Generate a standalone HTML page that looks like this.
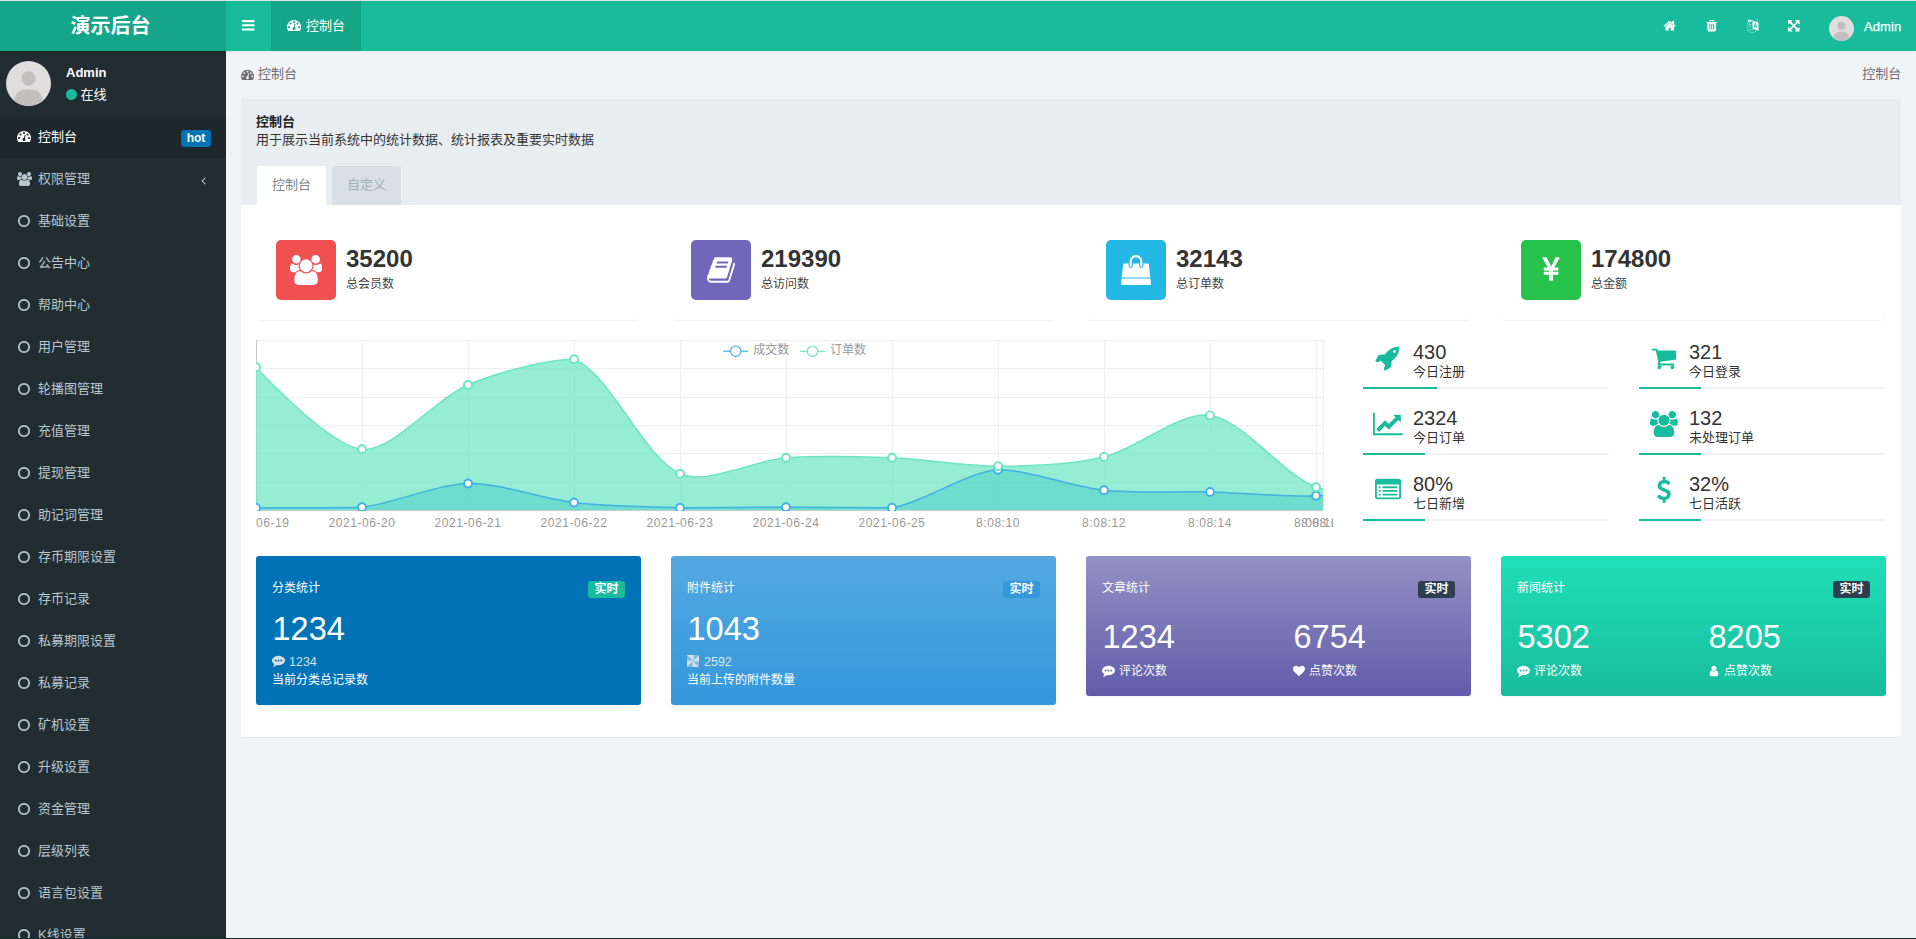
<!DOCTYPE html>
<html lang="zh-CN">
<head>
<meta charset="utf-8">
<title>演示后台</title>
<style>
*{box-sizing:border-box;}
html,body{margin:0;padding:0;}
body{width:1916px;height:939px;overflow:hidden;position:relative;background:#f1f4f6;color:#444;
 font-family:"Liberation Sans","Noto Sans CJK SC",sans-serif;font-size:13px;line-height:18px;}
svg{display:block;}
#topline{position:absolute;left:0;top:0;width:1916px;height:1px;background:#e6e1e6;z-index:50;}
/* header */
#header{position:absolute;left:0;top:1px;width:1916px;height:50px;background:#18bc9c;box-shadow:0 1px 2px rgba(0,0,0,.07);z-index:5;}
#logo{position:absolute;left:0;top:0;width:226px;height:50px;background:#15a589;color:#fff;font-weight:bold;font-size:20px;line-height:50px;}
#logo span{position:absolute;left:70.5px;top:0;}
#toggle{position:absolute;left:226px;top:0;width:45px;height:50px;}
#navtab{position:absolute;left:271px;top:0;width:90px;height:50px;background:#15a589;color:#fff;}
#navtab span{position:absolute;left:35px;top:15.5px;line-height:18px;}
#huser{position:absolute;left:1829px;top:15px;width:25px;height:25px;border-radius:50%;overflow:hidden;}
#hname{position:absolute;left:1864px;top:16.5px;color:#fff;font-size:13px;line-height:18px;letter-spacing:0.1px;-webkit-text-stroke:0.25px #fff;}
/* sidebar */
#sidebar{position:absolute;left:0;top:51px;width:226px;height:888px;background:#222d32;overflow:hidden;}
#avatar{position:absolute;left:6px;top:10px;width:45px;height:45px;border-radius:50%;overflow:hidden;}
#uname{position:absolute;left:66px;top:13px;color:#fff;font-weight:bold;font-size:13px;line-height:18px;}
#ustatus{position:absolute;left:66px;top:34.5px;color:#fff;font-size:13px;line-height:18px;}
#ustatus i{display:inline-block;width:11px;height:11px;border-radius:50%;background:#18bc9c;margin-right:3.5px;vertical-align:-1.5px;}
.mi{position:absolute;left:0;width:226px;height:42px;color:#b8c7ce;}
.mi.active{background:#1e282c;color:#fff;}
.mi .tx{position:absolute;left:38px;top:12px;line-height:18px;white-space:nowrap;}
#hot{position:absolute;left:181px;top:14px;width:30px;height:17px;background:#0073b7;border-radius:3px;color:#fff;font-weight:bold;font-size:12px;line-height:16px;text-align:center;}
/* content */
#bc{position:absolute;left:258px;top:65.4px;color:#746c73;line-height:18px;}
#bcr{position:absolute;right:14.8px;top:65.4px;color:#746c73;line-height:18px;}
#phead{position:absolute;left:241px;top:99px;width:1660px;height:106px;background:#e8edf0;border-radius:1px 0 0 0;}
#ptitle{position:absolute;left:15px;top:14px;font-weight:bold;color:#222;line-height:18px;}
#psub{position:absolute;left:15px;top:32px;color:#333;line-height:18px;}
.tab{position:absolute;top:67px;height:39px;width:69px;border-radius:3px 3px 0 0;text-align:center;line-height:38px;}
#tab1{left:16px;background:#fff;color:#7b8a8b;}
#tab2{left:91px;background:#d9e0e5;color:#a4afb4;}
#pbody{position:absolute;left:241px;top:205px;width:1660px;height:532px;background:#fff;border-radius:0 0 3px 3px;box-shadow:0 1px 1px rgba(0,0,0,.05);}
/* small stats */
.smst{position:absolute;top:15px;width:385px;height:100px;background:#fff;border-radius:5px;box-shadow:0 1px 0 rgba(0,0,0,.05);}
.smst .ico{position:absolute;left:20px;top:20px;width:60px;height:60px;border-radius:5px;}
.smst .num{position:absolute;left:90px;top:22px;font-size:24px;font-weight:bold;color:#333;line-height:34px;}
.smst .lab{position:absolute;left:90px;top:56px;font-size:12px;color:#444;line-height:17px;}
/* right stats */
.stat{position:absolute;width:246px;height:56px;}
.stat .val{position:absolute;left:50px;top:-2.4px;font-size:20px;line-height:24px;color:#333;}
.stat .nam{position:absolute;left:50px;top:21px;font-size:13px;line-height:18px;color:#333;}
.stat .bar{position:absolute;left:0;top:45px;width:246px;height:2px;background:#f2f2f2;}
.stat .bar i{display:block;height:2px;background:#18bc9c;}
/* cards */
.card{position:absolute;top:351px;width:385px;color:#fff;border-radius:3px;box-shadow:0 1px 1px rgba(0,0,0,.05);}
.card .ct{position:absolute;left:16px;top:24px;font-size:12px;line-height:17px;}
.card .lb{position:absolute;right:16px;top:25px;width:37px;height:17px;border-radius:3px;font-size:12px;font-weight:bold;line-height:16px;text-align:center;}
.card .big{position:absolute;font-size:32.5px;line-height:40px;}
.card .sm{position:absolute;font-size:12px;line-height:17px;white-space:nowrap;}
.card .sm b{font-weight:normal;font-size:12.5px;}
#botline{position:absolute;left:0;top:938px;width:1916px;height:1px;background:#17283a;z-index:50;}
</style>
</head>
<body>
<div id="topline"></div><div id="botline"></div>
<div id="header">
  <div id="logo"><span>演示后台</span></div>
  <div id="toggle"><svg style="position:absolute;left:14.6px;top:16.6px" width="14.60" height="14.6" viewBox="0 0 1792 1792"><path fill="#fff" d="M1664 1344v128q0 26-19 45t-45 19h-1408q-26 0-45-19t-19-45v-128q0-26 19-45t45-19h1408q26 0 45 19t19 45zm0-512v128q0 26-19 45t-45 19h-1408q-26 0-45-19t-19-45v-128q0-26 19-45t45-19h1408q26 0 45 19t19 45zm0-512v128q0 26-19 45t-45 19h-1408q-26 0-45-19t-19-45v-128q0-26 19-45t45-19h1408q26 0 45 19t19 45z"/></svg></div>
  <div id="navtab"><svg style="position:absolute;left:16.2px;top:17px" width="14.00" height="14" viewBox="0 0 1792 1792"><path fill="#fff" d="M384 1152q0-53-37.500-90.500t-90.500-37.500-90.500 37.500-37.500 90.500 37.500 90.500 90.500 37.500 90.500-37.500 37.500-90.500zm192-448q0-53-37.500-90.500t-90.500-37.500-90.500 37.500-37.500 90.500 37.500 90.500 90.500 37.500 90.500-37.500 37.500-90.500zm428 481l101-382q6-26-7.500-48.500t-38.500-29.500-48 6.500-30 39.500l-101 382q-60 5-107 43.500t-63 98.500q-20 77 20 146t117 89 146-20 89-117q16-60-6-117t-72-91zm660-33q0-53-37.500-90.500t-90.500-37.500-90.500 37.500-37.500 90.500 37.500 90.500 90.500 37.500 90.500-37.500 37.500-90.500zm-640-640q0-53-37.500-90.500t-90.500-37.500-90.500 37.500-37.500 90.500 37.500 90.500 90.500 37.500 90.500-37.500 37.500-90.500zm448 192q0-53-37.500-90.500t-90.500-37.500-90.500 37.500-37.500 90.500 37.500 90.500 90.500 37.500 90.500-37.500 37.500-90.500zm320 448q0 261-141 483-19 29-54 29h-1402q-35 0-54-29-141-221-141-483 0-182 71-348t191-286 286-191 348-71 348 71 286 191 191 286 71 348z"/></svg><span>控制台</span></div>
  <svg style="position:absolute;left:1663.0px;top:18.3px" width="13.50" height="13.5" viewBox="0 0 1792 1792"><path fill="#fff" d="M1472 992v480q0 26-19 45t-45 19h-384v-384h-256v384h-384q-26 0-45-19t-19-45v-480q0-1 .5-3t.5-3l575-474 575 474q1 2 1 6zm223-69l-62 74q-8 9-21 11h-3q-13 0-21-7l-692-577-692 577q-12 8-24 7-13-2-21-11l-62-74q-8-10-7-23.500t11-21.500l719-599q32-26 76-26t76 26l244 204v-195q0-14 9-23t23-9h192q14 0 23 9t9 23v408l219 182q10 8 11 21.500t-7 23.500z"/></svg>
  <svg style="position:absolute;left:1705.0px;top:18.3px" width="13.50" height="13.5" viewBox="0 0 1792 1792"><path fill="#fff" d="M704 1376v-704q0-14-9-23t-23-9h-64q-14 0-23 9t-9 23v704q0 14 9 23t23 9h64q14 0 23-9t9-23zm256 0v-704q0-14-9-23t-23-9h-64q-14 0-23 9t-9 23v704q0 14 9 23t23 9h64q14 0 23-9t9-23zm256 0v-704q0-14-9-23t-23-9h-64q-14 0-23 9t-9 23v704q0 14 9 23t23 9h64q14 0 23-9t9-23zm-544-992h448l-48-117q-7-9-17-11h-317q-10 2-17 11zm928 32v64q0 14-9 23t-23 9h-96v948q0 83-47 143.500t-113 60.500h-832q-66 0-113-58.500t-47-141.500v-952h-96q-14 0-23-9t-9-23v-64q0-14 9-23t23-9h309l70-167q15-37 54-63t79-26h320q40 0 79 26t54 63l70 167h309q14 0 23 9t9 23z"/></svg>
  <svg style="position:absolute;left:1745.7px;top:18.3px" width="13.50" height="13.5" viewBox="0 0 1792 1792"><path fill="#fff" d="M782 1078q-1 3-12.500 .5t-31.500-11.500l-20-9q-44-20-87-49-7-5-41-31.500t-38-28.500q-67 103-134 181-81 95-105 110-4 2-19.500 4t-18.500 0q6-4 82-92 21-24 85.500-115t78.500-118q17-30 51-98.500t36-77.500q-8-1-110 33-8 2-27.500 7.500t-34.500 9.500-17 5q-2 2-2 10.500t-1 9.500q-5 10-31 15-23 7-47 0-18-4-28-21-4-6-5-23 6-2 24.500-5t29.500-6q58-16 105-32 100-35 102-35 10-2 43-19.500t44-21.500q9-3 21.500-8t14.500-5.500 6 .5q2 12-1 33 0 2-12.500 27t-26.500 53.500-17 33.500q-25 50-77 131l64 28q12 6 74.500 32t67.500 28q4 1 10.500 25.500t4.500 30.500zm-205-486q3 15-4 28-12 23-50 38-30 12-60 12-26-3-49-26-14-15-18-41l1-3q3 3 19.500 5t26.500 0 58-16q36-12 55-14 17 0 21 17zm698 129l63 227-139-42zm-1108 800l694-232v-1032l-694 233v1031zm1241-317l102 31-181-657-100-31-216 536 102 31 45-110 211 65zm-503-962l573 184v-380zm311 1323l158 13-54 160-40-66q-130 83-276 108-58 12-91 12h-84q-79 0-199.500-39t-183.500-85q-8-7-8-16 0-8 5-13.500t13-5.500q4 0 18 7.500t30.500 16.500 20.500 11q73 37 159.500 61.500t157.500 24.500q95 0 167-14.500t157-50.500q15-7 30.500-15.500t34-19 28.500-16.500zm448-1079v1079l-774-246q-14 6-375 127.500t-368 121.500q-13 0-18-13 0-1-1-3v-1078q3-9 4-10 5-6 20-11 106-35 149-50v-384l558 198q2 0 160.500-55t316-108.500 161.500-53.500q20 0 20 21v418z"/></svg>
  <svg style="position:absolute;left:1786.8px;top:18.3px" width="13.50" height="13.5" viewBox="0 0 1792 1792"><path fill="#fff" d="M1411 541l-355 355 355 355 144-144q29-31 70-14 39 17 39 59v448q0 26-19 45t-45 19h-448q-42 0-59-40-17-39 14-69l144-144-355-355-355 355 144 144q31 30 14 69-17 40-59 40h-448q-26 0-45-19t-19-45v-448q0-42 40-59 39-17 69 14l144 144 355-355-355-355-144 144q-19 19-45 19-12 0-24-5-40-17-40-59v-448q0-26 19-45t45-19h448q42 0 59 40 17 39-14 69l-144 144 355 355 355-355-144-144q-31-30-14-69 17-40 59-40h448q26 0 45 19t19 45v448q0 42-39 59-13 5-25 5-26 0-45-19z"/></svg>
  <div id="huser"><svg width="25" height="25" viewBox="0 0 45 45"><rect width="45" height="45" fill="#dfdddd"/><circle cx="22.5" cy="17.5" r="7.2" fill="#c2bfbf"/><path d="M7.5 45 C7.5 31 14 28.5 22.5 28.5 S37.5 31 37.5 45Z" fill="#c2bfbf"/></svg></div>
  <div id="hname">Admin</div>
</div>
<div id="sidebar">
  <div id="avatar"><svg width="45" height="45" viewBox="0 0 45 45"><rect width="45" height="45" fill="#dfdddd"/><circle cx="22.5" cy="17.5" r="7.2" fill="#c2bfbf"/><path d="M7.5 45 C7.5 31 14 28.5 22.5 28.5 S37.5 31 37.5 45Z" fill="#c2bfbf"/></svg></div>
  <div id="uname">Admin</div>
  <div id="ustatus"><i></i>在线</div>
  <div class="mi active" style="top:65px"><svg style="position:absolute;left:17px;top:13.4px" width="14.00" height="14" viewBox="0 0 1792 1792"><path fill="#fff" d="M384 1152q0-53-37.500-90.500t-90.500-37.500-90.500 37.500-37.500 90.500 37.500 90.500 90.500 37.500 90.500-37.500 37.500-90.500zm192-448q0-53-37.500-90.500t-90.500-37.500-90.500 37.500-37.500 90.500 37.500 90.500 90.500 37.500 90.500-37.500 37.500-90.500zm428 481l101-382q6-26-7.500-48.500t-38.500-29.500-48 6.500-30 39.500l-101 382q-60 5-107 43.500t-63 98.500q-20 77 20 146t117 89 146-20 89-117q16-60-6-117t-72-91zm660-33q0-53-37.500-90.500t-90.500-37.500-90.500 37.500-37.500 90.500 37.500 90.500 90.500 37.500 90.500-37.500 37.500-90.500zm-640-640q0-53-37.500-90.500t-90.500-37.500-90.500 37.500-37.500 90.500 37.500 90.500 90.500 37.500 90.500-37.500 37.500-90.500zm448 192q0-53-37.500-90.500t-90.500-37.500-90.500 37.500-37.500 90.500 37.500 90.500 90.500 37.500 90.500-37.500 37.500-90.500zm320 448q0 261-141 483-19 29-54 29h-1402q-35 0-54-29-141-221-141-483 0-182 71-348t191-286 286-191 348-71 348 71 286 191 191 286 71 348z"/></svg><span class="tx">控制台</span><span id="hot">hot</span></div>
<div class="mi" style="top:107px"><svg style="position:absolute;left:17px;top:13.5px" width="15.00" height="14" viewBox="0 0 1920 1792"><path fill="#b8c7ce" d="M593 896q-162 5-265 128h-134q-82 0-138-40.500t-56-118.500q0-353 124-353 6 0 43.500 21t97.500 42.500 119 21.500q67 0 133-23-5 37-5 66 0 139 81 256zm1071 637q0 120-73 189.500t-194 69.500h-874q-121 0-194-69.500t-73-189.500q0-53 3.500-103.500t14-109 26.500-108.500 43-97.500 62-81 85.500-53.500 111.500-20q10 0 43 21.500t73 48 107 48 135 21.500 135-21.500 107-48 73-48 43-21.500q61 0 111.500 20t85.500 53.500 62 81 43 97.500 26.500 108.500 14 109 3.500 103.500zm-1024-1277q0 106-75 181t-181 75-181-75-75-181 75-181 181-75 181 75 75 181zm704 384q0 159-112.500 271.500t-271.500 112.500-271.500-112.500-112.500-271.500 112.500-271.500 271.500-112.500 271.500 112.500 112.500 271.500zm576 225q0 78-56 118.500t-138 40.500h-134q-103-123-265-128 81-117 81-256 0-29-5-66 66 23 133 23 59 0 119-21.500t97.500-42.500 43.500-21q124 0 124 353zm-128-609q0 106-75 181t-181 75-181-75-75-181 75-181 181-75 181 75 75 181z"/></svg><span class="tx">权限管理</span><svg style="position:absolute;left:196.5px;top:15.8px" width="13.00" height="13" viewBox="0 0 1792 1792"><path fill="#b8c7ce" d="M1203 544q0 13-10 23l-393 393 393 393q10 10 10 23t-10 23l-50 50q-10 10-23 10t-23-10l-466-466q-10-10-10-23t10-23l466-466q10-10 23-10t23 10l50 50q10 10 10 23z"/></svg></div>
<div class="mi" style="top:149px"><svg style="position:absolute;left:17px;top:13.6px" width="14" height="14" viewBox="0 0 1792 1792"><path fill="#b8c7ce" d="M896 352q-148 0-273 73t-198 198-73 273 73 273 198 198 273 73 273-73 198-198 73-273-73-273-198-198-273-73zm768 544q0 209-103 385.500t-279.500 279.500-385.500 103-385.500-103-279.500-279.500-103-385.500 103-385.500 279.500-279.500 385.500-103 385.500 103 279.500 279.500 103 385.500z"/></svg><span class="tx">基础设置</span></div>
<div class="mi" style="top:191px"><svg style="position:absolute;left:17px;top:13.6px" width="14" height="14" viewBox="0 0 1792 1792"><path fill="#b8c7ce" d="M896 352q-148 0-273 73t-198 198-73 273 73 273 198 198 273 73 273-73 198-198 73-273-73-273-198-198-273-73zm768 544q0 209-103 385.500t-279.500 279.500-385.500 103-385.500-103-279.500-279.500-103-385.500 103-385.500 279.500-279.500 385.500-103 385.500 103 279.500 279.500 103 385.500z"/></svg><span class="tx">公告中心</span></div>
<div class="mi" style="top:233px"><svg style="position:absolute;left:17px;top:13.6px" width="14" height="14" viewBox="0 0 1792 1792"><path fill="#b8c7ce" d="M896 352q-148 0-273 73t-198 198-73 273 73 273 198 198 273 73 273-73 198-198 73-273-73-273-198-198-273-73zm768 544q0 209-103 385.500t-279.500 279.500-385.500 103-385.500-103-279.500-279.500-103-385.500 103-385.500 279.500-279.500 385.500-103 385.500 103 279.500 279.500 103 385.500z"/></svg><span class="tx">帮助中心</span></div>
<div class="mi" style="top:275px"><svg style="position:absolute;left:17px;top:13.6px" width="14" height="14" viewBox="0 0 1792 1792"><path fill="#b8c7ce" d="M896 352q-148 0-273 73t-198 198-73 273 73 273 198 198 273 73 273-73 198-198 73-273-73-273-198-198-273-73zm768 544q0 209-103 385.500t-279.500 279.500-385.500 103-385.500-103-279.500-279.500-103-385.500 103-385.500 279.500-279.500 385.500-103 385.500 103 279.500 279.500 103 385.500z"/></svg><span class="tx">用户管理</span></div>
<div class="mi" style="top:317px"><svg style="position:absolute;left:17px;top:13.6px" width="14" height="14" viewBox="0 0 1792 1792"><path fill="#b8c7ce" d="M896 352q-148 0-273 73t-198 198-73 273 73 273 198 198 273 73 273-73 198-198 73-273-73-273-198-198-273-73zm768 544q0 209-103 385.500t-279.500 279.500-385.500 103-385.500-103-279.500-279.500-103-385.500 103-385.500 279.500-279.500 385.500-103 385.500 103 279.500 279.500 103 385.500z"/></svg><span class="tx">轮播图管理</span></div>
<div class="mi" style="top:359px"><svg style="position:absolute;left:17px;top:13.6px" width="14" height="14" viewBox="0 0 1792 1792"><path fill="#b8c7ce" d="M896 352q-148 0-273 73t-198 198-73 273 73 273 198 198 273 73 273-73 198-198 73-273-73-273-198-198-273-73zm768 544q0 209-103 385.500t-279.500 279.500-385.500 103-385.500-103-279.500-279.500-103-385.500 103-385.500 279.500-279.500 385.500-103 385.500 103 279.500 279.500 103 385.500z"/></svg><span class="tx">充值管理</span></div>
<div class="mi" style="top:401px"><svg style="position:absolute;left:17px;top:13.6px" width="14" height="14" viewBox="0 0 1792 1792"><path fill="#b8c7ce" d="M896 352q-148 0-273 73t-198 198-73 273 73 273 198 198 273 73 273-73 198-198 73-273-73-273-198-198-273-73zm768 544q0 209-103 385.500t-279.500 279.500-385.500 103-385.500-103-279.500-279.500-103-385.500 103-385.500 279.500-279.500 385.500-103 385.500 103 279.500 279.500 103 385.500z"/></svg><span class="tx">提现管理</span></div>
<div class="mi" style="top:443px"><svg style="position:absolute;left:17px;top:13.6px" width="14" height="14" viewBox="0 0 1792 1792"><path fill="#b8c7ce" d="M896 352q-148 0-273 73t-198 198-73 273 73 273 198 198 273 73 273-73 198-198 73-273-73-273-198-198-273-73zm768 544q0 209-103 385.500t-279.500 279.500-385.500 103-385.500-103-279.500-279.500-103-385.500 103-385.500 279.500-279.500 385.500-103 385.500 103 279.500 279.500 103 385.500z"/></svg><span class="tx">助记词管理</span></div>
<div class="mi" style="top:485px"><svg style="position:absolute;left:17px;top:13.6px" width="14" height="14" viewBox="0 0 1792 1792"><path fill="#b8c7ce" d="M896 352q-148 0-273 73t-198 198-73 273 73 273 198 198 273 73 273-73 198-198 73-273-73-273-198-198-273-73zm768 544q0 209-103 385.500t-279.500 279.500-385.500 103-385.500-103-279.500-279.500-103-385.500 103-385.500 279.500-279.500 385.500-103 385.500 103 279.500 279.500 103 385.500z"/></svg><span class="tx">存币期限设置</span></div>
<div class="mi" style="top:527px"><svg style="position:absolute;left:17px;top:13.6px" width="14" height="14" viewBox="0 0 1792 1792"><path fill="#b8c7ce" d="M896 352q-148 0-273 73t-198 198-73 273 73 273 198 198 273 73 273-73 198-198 73-273-73-273-198-198-273-73zm768 544q0 209-103 385.500t-279.500 279.500-385.500 103-385.500-103-279.500-279.500-103-385.500 103-385.500 279.500-279.500 385.500-103 385.500 103 279.500 279.500 103 385.500z"/></svg><span class="tx">存币记录</span></div>
<div class="mi" style="top:569px"><svg style="position:absolute;left:17px;top:13.6px" width="14" height="14" viewBox="0 0 1792 1792"><path fill="#b8c7ce" d="M896 352q-148 0-273 73t-198 198-73 273 73 273 198 198 273 73 273-73 198-198 73-273-73-273-198-198-273-73zm768 544q0 209-103 385.500t-279.500 279.500-385.500 103-385.500-103-279.500-279.500-103-385.500 103-385.500 279.500-279.500 385.500-103 385.500 103 279.500 279.500 103 385.500z"/></svg><span class="tx">私募期限设置</span></div>
<div class="mi" style="top:611px"><svg style="position:absolute;left:17px;top:13.6px" width="14" height="14" viewBox="0 0 1792 1792"><path fill="#b8c7ce" d="M896 352q-148 0-273 73t-198 198-73 273 73 273 198 198 273 73 273-73 198-198 73-273-73-273-198-198-273-73zm768 544q0 209-103 385.500t-279.500 279.500-385.500 103-385.500-103-279.500-279.500-103-385.500 103-385.500 279.500-279.500 385.500-103 385.500 103 279.500 279.500 103 385.500z"/></svg><span class="tx">私募记录</span></div>
<div class="mi" style="top:653px"><svg style="position:absolute;left:17px;top:13.6px" width="14" height="14" viewBox="0 0 1792 1792"><path fill="#b8c7ce" d="M896 352q-148 0-273 73t-198 198-73 273 73 273 198 198 273 73 273-73 198-198 73-273-73-273-198-198-273-73zm768 544q0 209-103 385.500t-279.500 279.500-385.500 103-385.500-103-279.500-279.500-103-385.500 103-385.500 279.500-279.500 385.500-103 385.500 103 279.500 279.500 103 385.500z"/></svg><span class="tx">矿机设置</span></div>
<div class="mi" style="top:695px"><svg style="position:absolute;left:17px;top:13.6px" width="14" height="14" viewBox="0 0 1792 1792"><path fill="#b8c7ce" d="M896 352q-148 0-273 73t-198 198-73 273 73 273 198 198 273 73 273-73 198-198 73-273-73-273-198-198-273-73zm768 544q0 209-103 385.500t-279.500 279.500-385.500 103-385.500-103-279.500-279.500-103-385.500 103-385.500 279.500-279.500 385.500-103 385.500 103 279.500 279.500 103 385.500z"/></svg><span class="tx">升级设置</span></div>
<div class="mi" style="top:737px"><svg style="position:absolute;left:17px;top:13.6px" width="14" height="14" viewBox="0 0 1792 1792"><path fill="#b8c7ce" d="M896 352q-148 0-273 73t-198 198-73 273 73 273 198 198 273 73 273-73 198-198 73-273-73-273-198-198-273-73zm768 544q0 209-103 385.500t-279.500 279.500-385.500 103-385.500-103-279.500-279.500-103-385.500 103-385.500 279.500-279.500 385.500-103 385.500 103 279.500 279.500 103 385.500z"/></svg><span class="tx">资金管理</span></div>
<div class="mi" style="top:779px"><svg style="position:absolute;left:17px;top:13.6px" width="14" height="14" viewBox="0 0 1792 1792"><path fill="#b8c7ce" d="M896 352q-148 0-273 73t-198 198-73 273 73 273 198 198 273 73 273-73 198-198 73-273-73-273-198-198-273-73zm768 544q0 209-103 385.500t-279.500 279.500-385.500 103-385.500-103-279.500-279.500-103-385.500 103-385.500 279.500-279.500 385.500-103 385.500 103 279.500 279.500 103 385.500z"/></svg><span class="tx">层级列表</span></div>
<div class="mi" style="top:821px"><svg style="position:absolute;left:17px;top:13.6px" width="14" height="14" viewBox="0 0 1792 1792"><path fill="#b8c7ce" d="M896 352q-148 0-273 73t-198 198-73 273 73 273 198 198 273 73 273-73 198-198 73-273-73-273-198-198-273-73zm768 544q0 209-103 385.500t-279.500 279.500-385.500 103-385.500-103-279.500-279.500-103-385.500 103-385.500 279.500-279.500 385.500-103 385.500 103 279.500 279.500 103 385.500z"/></svg><span class="tx">语言包设置</span></div>
<div class="mi" style="top:863px"><svg style="position:absolute;left:17px;top:13.6px" width="14" height="14" viewBox="0 0 1792 1792"><path fill="#b8c7ce" d="M896 352q-148 0-273 73t-198 198-73 273 73 273 198 198 273 73 273-73 198-198 73-273-73-273-198-198-273-73zm768 544q0 209-103 385.500t-279.500 279.500-385.500 103-385.500-103-279.500-279.500-103-385.500 103-385.500 279.500-279.500 385.500-103 385.500 103 279.500 279.500 103 385.500z"/></svg><span class="tx">K线设置</span></div>

</div>
<div id="bc"><svg style="position:absolute;left:-17px;top:3px" width="13.00" height="13" viewBox="0 0 1792 1792"><path fill="#746c73" d="M384 1152q0-53-37.500-90.500t-90.500-37.500-90.500 37.500-37.500 90.500 37.500 90.500 90.500 37.500 90.500-37.500 37.500-90.500zm192-448q0-53-37.500-90.500t-90.500-37.500-90.500 37.500-37.500 90.500 37.500 90.500 90.500 37.500 90.500-37.500 37.500-90.500zm428 481l101-382q6-26-7.500-48.500t-38.500-29.500-48 6.500-30 39.500l-101 382q-60 5-107 43.500t-63 98.500q-20 77 20 146t117 89 146-20 89-117q16-60-6-117t-72-91zm660-33q0-53-37.500-90.500t-90.500-37.500-90.500 37.500-37.500 90.500 37.500 90.500 90.500 37.500 90.500-37.500 37.500-90.500zm-640-640q0-53-37.500-90.500t-90.500-37.500-90.500 37.500-37.500 90.500 37.500 90.500 90.500 37.500 90.500-37.500 37.500-90.500zm448 192q0-53-37.500-90.500t-90.500-37.500-90.500 37.500-37.500 90.500 37.500 90.500 90.500 37.500 90.500-37.500 37.500-90.500zm320 448q0 261-141 483-19 29-54 29h-1402q-35 0-54-29-141-221-141-483 0-182 71-348t191-286 286-191 348-71 348 71 286 191 191 286 71 348z"/></svg>控制台</div>
<div id="bcr">控制台</div>
<div id="phead">
  <div id="ptitle">控制台</div>
  <div id="psub">用于展示当前系统中的统计数据、统计报表及重要实时数据</div>
  <div class="tab" id="tab1">控制台</div>
  <div class="tab" id="tab2">自定义</div>
</div>
<div id="pbody"><div class="smst" style="left:15px"><div class="ico" style="background:#f05050"><svg style="position:absolute;left:13.928571428571427px;top:15.0px" width="32.14" height="30" viewBox="0 0 1920 1792"><path fill="#fff" d="M593 896q-162 5-265 128h-134q-82 0-138-40.500t-56-118.500q0-353 124-353 6 0 43.500 21t97.500 42.500 119 21.500q67 0 133-23-5 37-5 66 0 139 81 256zm1071 637q0 120-73 189.500t-194 69.500h-874q-121 0-194-69.500t-73-189.500q0-53 3.500-103.500t14-109 26.500-108.500 43-97.500 62-81 85.500-53.500 111.500-20q10 0 43 21.500t73 48 107 48 135 21.500 135-21.500 107-48 73-48 43-21.500q61 0 111.500 20t85.500 53.500 62 81 43 97.500 26.500 108.500 14 109 3.500 103.500zm-1024-1277q0 106-75 181t-181 75-181-75-75-181 75-181 181-75 181 75 75 181zm704 384q0 159-112.500 271.500t-271.500 112.500-271.500-112.500-112.500-271.500 112.500-271.500 271.500-112.500 271.500 112.500 112.500 271.500zm576 225q0 78-56 118.500t-138 40.500h-134q-103-123-265-128 81-117 81-256 0-29-5-66 66 23 133 23 59 0 119-21.500t97.500-42.500 43.500-21q124 0 124 353zm-128-609q0 106-75 181t-181 75-181-75-75-181 75-181 181-75 181 75 75 181z"/></svg></div><div class="num">35200</div><div class="lab">总会员数</div></div><div class="smst" style="left:430px"><div class="ico" style="background:#7266ba"><svg style="position:absolute;left:15.0px;top:15.0px" width="30.00" height="30" viewBox="0 0 1792 1792"><path fill="#fff" d="M1703 478q40 57 18 129l-275 906q-19 64-76.500 107.500t-122.500 43.500h-923q-77 0-148.500-53.500t-99.500-131.500q-24-67-2-127 0-4 3-27t4-37q1-8-3-21.500t-3-19.500q2-11 8-21t16.500-23.500 16.500-23.500q23-38 45-91.500t30-91.500q3-10 .5-30t-.5-28q3-11 17-28t17-23q21-36 42-92t25-90q1-9-2.500-32t.5-28q4-13 22-30.500t22-22.500q19-26 42.500-84.500t27.500-96.500q1-8-3-25.500t-2-26.500q2-8 9-18t18-23 17-21q8-12 16.500-30.500t15-35 16-36 19.500-32 26.500-23.500 36-11.500 47.500 5.500l-1 3q38-9 51-9h761q74 0 114 56t18 130l-274 906q-36 119-71.500 153.500t-128.500 34.500h-869q-27 0-38 15-11 16-1 43 24 70 144 70h923q29 0 56-15.500t35-41.500l300-987q7-22 5-57 38 15 59 43zm-1064 2q-4 13 2 22.500t20 9.500h608q13 0 25.500-9.500t16.500-22.500l21-64q4-13-2-22.500t-20-9.500h-608q-13 0-25.500 9.500t-16.500 22.500zm-83 256q-4 13 2 22.500t20 9.500h608q13 0 25.500-9.500t16.500-22.500l21-64q4-13-2-22.500t-20-9.500h-608q-13 0-25.500 9.500t-16.500 22.500z"/></svg></div><div class="num">219390</div><div class="lab">总访问数</div></div><div class="smst" style="left:845px"><div class="ico" style="background:#23b7e5"><svg style="position:absolute;left:15.0px;top:15.0px" width="30.00" height="30" viewBox="0 0 1792 1792"><path fill="#fff" d="M1757 1408l35 313q3 28-16 50-19 21-48 21h-1664q-29 0-48-21-19-22-16-50l35-313h1722zm-93-839l86 775h-1708l86-775q3-24 21-40.500t43-16.500h256v128q0 53 37.500 90.500t90.500 37.500 90.500-37.500 37.500-90.500v-128h384v128q0 53 37.500 90.500t90.500 37.500 90.500-37.500 37.500-90.500v-128h256q25 0 43 16.500t21 40.500zm-384-185v256q0 26-19 45t-45 19-45-19-19-45v-256q0-106-75-181t-181-75-181 75-75 181v256q0 26-19 45t-45 19-45-19-19-45v-256q0-159 112.500-271.500t271.500-112.500 271.500 112.500 112.500 271.500z"/></svg></div><div class="num">32143</div><div class="lab">总订单数</div></div><div class="smst" style="left:1260px"><div class="ico" style="background:#27c24c"><svg style="position:absolute;left:15.0px;top:15.0px" width="30.00" height="30" viewBox="0 0 1792 1792"><path fill="#fff" d="M985.500 1536h-172q-13 0-22.500-9t-9.500-23v-330h-288q-13 0-22.500-9t-9.500-23v-103q0-13 9.500-22.500t22.500-9.500h288v-85h-288q-13 0-22.500-9t-9.500-23v-104q0-13 9.500-22.500t22.500-9.500h214l-321-578q-8-16 0-32 10-16 28-16h194q19 0 29 18l215 425q19 38 56 125 10-24 30.500-68t27.500-61l191-420q8-19 29-19h191q17 0 27 16 9 14 1 31l-313 579h215q13 0 22.500 9.500t9.500 22.500v104q0 14-9.500 23t-22.500 9h-290v85h290q13 0 22.500 9.500t9.500 22.500v103q0 14-9.500 23t-22.500 9h-290v330q0 13-9.500 22.500t-22.500 9.500z"/></svg></div><div class="num">174800</div><div class="lab">总金额</div></div><svg id="chart" style="position:absolute;left:15px;top:135px;overflow:hidden" width="1077" height="200" viewBox="0 0 1077 200">
<defs><clipPath id="pc"><rect x="0" y="0" width="1067" height="171"/></clipPath></defs>
<line x1="0" y1="0.5" x2="1067" y2="0.5" stroke="#eee" stroke-width="1"/>
<line x1="0" y1="28.5" x2="1067" y2="28.5" stroke="#eee" stroke-width="1"/>
<line x1="0" y1="57.5" x2="1067" y2="57.5" stroke="#eee" stroke-width="1"/>
<line x1="0" y1="85.5" x2="1067" y2="85.5" stroke="#eee" stroke-width="1"/>
<line x1="0" y1="113.5" x2="1067" y2="113.5" stroke="#eee" stroke-width="1"/>
<line x1="0" y1="142.5" x2="1067" y2="142.5" stroke="#eee" stroke-width="1"/>
<line x1="106.5" y1="0" x2="106.5" y2="170" stroke="#eee" stroke-width="1"/>
<line x1="212.5" y1="0" x2="212.5" y2="170" stroke="#eee" stroke-width="1"/>
<line x1="318.5" y1="0" x2="318.5" y2="170" stroke="#eee" stroke-width="1"/>
<line x1="424.5" y1="0" x2="424.5" y2="170" stroke="#eee" stroke-width="1"/>
<line x1="530.5" y1="0" x2="530.5" y2="170" stroke="#eee" stroke-width="1"/>
<line x1="636.5" y1="0" x2="636.5" y2="170" stroke="#eee" stroke-width="1"/>
<line x1="742.5" y1="0" x2="742.5" y2="170" stroke="#eee" stroke-width="1"/>
<line x1="848.5" y1="0" x2="848.5" y2="170" stroke="#eee" stroke-width="1"/>
<line x1="954.5" y1="0" x2="954.5" y2="170" stroke="#eee" stroke-width="1"/>
<line x1="1060.5" y1="0" x2="1060.5" y2="170" stroke="#eee" stroke-width="1"/>
<line x1="1067.5" y1="0" x2="1067.5" y2="170" stroke="#eee" stroke-width="1"/>
<line x1="0.5" y1="0" x2="0.5" y2="170" stroke="#ccc" stroke-width="1"/>
<line x1="0" y1="170.5" x2="1067" y2="170.5" stroke="#ccc" stroke-width="1"/>
<g clip-path="url(#pc)">
<path d="M0.00 167.80C0.00 167.80 74.59 167.80 106.00 167.20C138.19 163.51 180.06 144.21 212.00 143.50C243.66 142.80 285.97 158.83 318.00 162.50C349.57 166.12 392.18 167.09 424.00 167.80C455.78 167.80 498.20 167.20 530.00 167.20C561.80 167.20 605.16 167.80 636.00 167.80C668.76 162.02 709.53 132.50 742.00 129.80C773.13 129.80 815.91 146.84 848.00 150.20C879.51 153.50 922.21 151.16 954.00 152.00C985.81 152.84 1028.29 157.00 1060.00 155.80C1091.89 154.60 1166.00 144.00 1166.00 144.00L1166.00 170 L0.00 170Z" fill="#3fb1e3" fill-opacity="0.7"/>
<path d="M0.00 27.20C0.00 27.20 72.96 106.53 106.00 109.30C136.56 111.87 178.17 59.38 212.00 45.00C241.77 32.35 291.84 19.20 318.00 19.20C355.44 34.88 386.29 116.26 424.00 133.80C449.89 145.84 498.02 120.21 530.00 117.80C561.62 115.41 604.25 116.54 636.00 117.80C667.85 119.06 710.21 126.33 742.00 126.20C773.81 126.06 817.27 124.26 848.00 116.90C880.87 109.02 924.07 71.12 954.00 75.40C987.67 80.21 1025.27 133.83 1060.00 147.20C1088.87 157.00 1166.00 157.00 1166.00 157.00L1166.00 170 L0.00 170Z" fill="#6be6c1" fill-opacity="0.7"/>
<path d="M0.00 167.80C0.00 167.80 74.59 167.80 106.00 167.20C138.19 163.51 180.06 144.21 212.00 143.50C243.66 142.80 285.97 158.83 318.00 162.50C349.57 166.12 392.18 167.09 424.00 167.80C455.78 167.80 498.20 167.20 530.00 167.20C561.80 167.20 605.16 167.80 636.00 167.80C668.76 162.02 709.53 132.50 742.00 129.80C773.13 129.80 815.91 146.84 848.00 150.20C879.51 153.50 922.21 151.16 954.00 152.00C985.81 152.84 1028.29 157.00 1060.00 155.80C1091.89 154.60 1166.00 144.00 1166.00 144.00" fill="none" stroke="#3fb1e3" stroke-width="1.5"/>
<path d="M0.00 27.20C0.00 27.20 72.96 106.53 106.00 109.30C136.56 111.87 178.17 59.38 212.00 45.00C241.77 32.35 291.84 19.20 318.00 19.20C355.44 34.88 386.29 116.26 424.00 133.80C449.89 145.84 498.02 120.21 530.00 117.80C561.62 115.41 604.25 116.54 636.00 117.80C667.85 119.06 710.21 126.33 742.00 126.20C773.81 126.06 817.27 124.26 848.00 116.90C880.87 109.02 924.07 71.12 954.00 75.40C987.67 80.21 1025.27 133.83 1060.00 147.20C1088.87 157.00 1166.00 157.00 1166.00 157.00" fill="none" stroke="#6be6c1" stroke-width="1.5"/>
<circle cx="0.0" cy="167.8" r="4" fill="#fff" stroke="#3fb1e3" stroke-width="1.9"/>
<circle cx="106.0" cy="167.2" r="4" fill="#fff" stroke="#3fb1e3" stroke-width="1.9"/>
<circle cx="212.0" cy="143.5" r="4" fill="#fff" stroke="#3fb1e3" stroke-width="1.9"/>
<circle cx="318.0" cy="162.5" r="4" fill="#fff" stroke="#3fb1e3" stroke-width="1.9"/>
<circle cx="424.0" cy="167.8" r="4" fill="#fff" stroke="#3fb1e3" stroke-width="1.9"/>
<circle cx="530.0" cy="167.2" r="4" fill="#fff" stroke="#3fb1e3" stroke-width="1.9"/>
<circle cx="636.0" cy="167.8" r="4" fill="#fff" stroke="#3fb1e3" stroke-width="1.9"/>
<circle cx="742.0" cy="129.8" r="4" fill="#fff" stroke="#3fb1e3" stroke-width="1.9"/>
<circle cx="848.0" cy="150.2" r="4" fill="#fff" stroke="#3fb1e3" stroke-width="1.9"/>
<circle cx="954.0" cy="152.0" r="4" fill="#fff" stroke="#3fb1e3" stroke-width="1.9"/>
<circle cx="1060.0" cy="155.8" r="4" fill="#fff" stroke="#3fb1e3" stroke-width="1.9"/>
<circle cx="0.0" cy="27.2" r="4" fill="#fff" stroke="#6be6c1" stroke-width="1.9"/>
<circle cx="106.0" cy="109.3" r="4" fill="#fff" stroke="#6be6c1" stroke-width="1.9"/>
<circle cx="212.0" cy="45.0" r="4" fill="#fff" stroke="#6be6c1" stroke-width="1.9"/>
<circle cx="318.0" cy="19.2" r="4" fill="#fff" stroke="#6be6c1" stroke-width="1.9"/>
<circle cx="424.0" cy="133.8" r="4" fill="#fff" stroke="#6be6c1" stroke-width="1.9"/>
<circle cx="530.0" cy="117.8" r="4" fill="#fff" stroke="#6be6c1" stroke-width="1.9"/>
<circle cx="636.0" cy="117.8" r="4" fill="#fff" stroke="#6be6c1" stroke-width="1.9"/>
<circle cx="742.0" cy="126.2" r="4" fill="#fff" stroke="#6be6c1" stroke-width="1.9"/>
<circle cx="848.0" cy="116.9" r="4" fill="#fff" stroke="#6be6c1" stroke-width="1.9"/>
<circle cx="954.0" cy="75.4" r="4" fill="#fff" stroke="#6be6c1" stroke-width="1.9"/>
<circle cx="1060.0" cy="147.2" r="4" fill="#fff" stroke="#6be6c1" stroke-width="1.9"/>
</g>
<g font-family="Liberation Sans, Noto Sans CJK SC, sans-serif">
<line x1="467.2" y1="11.2" x2="492.2" y2="11.2" stroke="#3fb1e3" stroke-width="1.2"/><circle cx="479.7" cy="11.2" r="5.2" fill="#fff" stroke="#3fb1e3" stroke-width="1.2"/><text x="497.2" y="14.1" font-size="12" fill="#999">成交数</text>
<line x1="544" y1="11.2" x2="569" y2="11.2" stroke="#6be6c1" stroke-width="1.2"/><circle cx="556.5" cy="11.2" r="5.2" fill="#fff" stroke="#6be6c1" stroke-width="1.2"/><text x="574" y="14.1" font-size="12" fill="#999">订单数</text>
<text x="0" y="186.5" font-size="12" fill="#999" text-anchor="middle" letter-spacing="0.55">2021-06-19</text>
<text x="106" y="186.5" font-size="12" fill="#999" text-anchor="middle" letter-spacing="0.55">2021-06-20</text>
<text x="212" y="186.5" font-size="12" fill="#999" text-anchor="middle" letter-spacing="0.55">2021-06-21</text>
<text x="318" y="186.5" font-size="12" fill="#999" text-anchor="middle" letter-spacing="0.55">2021-06-22</text>
<text x="424" y="186.5" font-size="12" fill="#999" text-anchor="middle" letter-spacing="0.55">2021-06-23</text>
<text x="530" y="186.5" font-size="12" fill="#999" text-anchor="middle" letter-spacing="0.55">2021-06-24</text>
<text x="636" y="186.5" font-size="12" fill="#999" text-anchor="middle" letter-spacing="0.55">2021-06-25</text>
<text x="742" y="186.5" font-size="12" fill="#999" text-anchor="middle" letter-spacing="0.55">8:08:10</text>
<text x="848" y="186.5" font-size="12" fill="#999" text-anchor="middle" letter-spacing="0.55">8:08:12</text>
<text x="954" y="186.5" font-size="12" fill="#999" text-anchor="middle" letter-spacing="0.55">8:08:14</text>
<text x="1060" y="186.5" font-size="12" fill="#999" text-anchor="middle" letter-spacing="0.55">8:08:16</text>
<text x="1067" y="186.5" font-size="12" fill="#999" text-anchor="middle" letter-spacing="0.55">8:08:18</text>
</g></svg><div class="stat" style="left:1122px;top:137px"><svg style="position:absolute;left:12.0px;top:3px" width="26.00" height="26" viewBox="0 0 1792 1792"><path fill="#18bc9c" d="M1440 448q0-40-28-68t-68-28-68 28-28 68 28 68 68 28 68-28 28-68zm224-288q0 249-75.500 430.500t-253.500 360.500q-81 80-195 176l-20 379q-2 16-16 26l-384 224q-7 4-16 4-12 0-23-9l-64-64q-13-14-8-32l85-276-281-281-276 85q-3 1-9 1-14 0-23-9l-64-64q-17-19-5-39l224-384q10-14 26-16l379-20q96-114 176-195 188-187 358-258t431-71q14 0 24 9.500t10 22.500z"/></svg><div class="val">430</div><div class="nam">今日注册</div><div class="bar"><i style="width:30%"></i></div></div><div class="stat" style="left:1398px;top:137px"><svg style="position:absolute;left:12.0px;top:3px" width="26.00" height="26" viewBox="0 0 1792 1792"><path fill="#18bc9c" d="M704 1536q0 52-38 90t-90 38-90-38-38-90 38-90 90-38 90 38 38 90zm896 0q0 52-38 90t-90 38-90-38-38-90 38-90 90-38 90 38 38 90zm128-1088v512q0 24-16.500 42.500t-40.500 21.500l-1044 122q13 60 13 70 0 16-24 64h920q26 0 45 19t19 45-19 45-45 19h-1024q-26 0-45-19t-19-45q0-11 8-31.500t16-36 21.500-40 15.500-29.500l-177-823h-204q-26 0-45-19t-19-45 19-45 45-19h256q16 0 28.500 6.500t19.500 15.500 13 24.500 8 26 5.500 29.500 4.500 26h1201q26 0 45 19t19 45z"/></svg><div class="val">321</div><div class="nam">今日登录</div><div class="bar"><i style="width:25%"></i></div></div><div class="stat" style="left:1122px;top:203px"><svg style="position:absolute;left:10.142857142857142px;top:3px" width="29.71" height="26" viewBox="0 0 2048 1792"><path fill="#18bc9c" d="M2048 1536v128h-2048v-1536h128v1408h1920zm-128-1248v435q0 21-19.500 29.500t-35.500-7.500l-121-121-633 633q-10 10-23 10t-23-10l-233-233-416 416-192-192 585-585q10-10 23-10t23 10l233 233 464-464-121-121q-16-16-7.500-35.500t29.500-19.500h435q14 0 23 9t9 23z"/></svg><div class="val">2324</div><div class="nam">今日订单</div><div class="bar"><i style="width:25%"></i></div></div><div class="stat" style="left:1398px;top:203px"><svg style="position:absolute;left:11.071428571428571px;top:3px" width="27.86" height="26" viewBox="0 0 1920 1792"><path fill="#18bc9c" d="M593 896q-162 5-265 128h-134q-82 0-138-40.500t-56-118.500q0-353 124-353 6 0 43.500 21t97.500 42.500 119 21.500q67 0 133-23-5 37-5 66 0 139 81 256zm1071 637q0 120-73 189.500t-194 69.500h-874q-121 0-194-69.500t-73-189.500q0-53 3.500-103.500t14-109 26.500-108.500 43-97.500 62-81 85.500-53.500 111.500-20q10 0 43 21.500t73 48 107 48 135 21.500 135-21.500 107-48 73-48 43-21.500q61 0 111.500 20t85.500 53.500 62 81 43 97.500 26.500 108.500 14 109 3.500 103.500zm-1024-1277q0 106-75 181t-181 75-181-75-75-181 75-181 181-75 181 75 75 181zm704 384q0 159-112.500 271.500t-271.500 112.500-271.500-112.500-112.500-271.500 112.500-271.500 271.500-112.500 271.500 112.500 112.500 271.500zm576 225q0 78-56 118.500t-138 40.500h-134q-103-123-265-128 81-117 81-256 0-29-5-66 66 23 133 23 59 0 119-21.500t97.500-42.500 43.500-21q124 0 124 353zm-128-609q0 106-75 181t-181 75-181-75-75-181 75-181 181-75 181 75 75 181z"/></svg><div class="val">132</div><div class="nam">未处理订单</div><div class="bar"><i style="width:25%"></i></div></div><div class="stat" style="left:1122px;top:269px"><svg style="position:absolute;left:12.0px;top:3px" width="26.00" height="26" viewBox="0 0 1792 1792"><path fill="#18bc9c" d="M384 1184v64q0 13-9.500 22.500t-22.500 9.500h-64q-13 0-22.500-9.500t-9.500-22.500v-64q0-13 9.500-22.500t22.500-9.500h64q13 0 22.500 9.500t9.500 22.500zm0-256v64q0 13-9.500 22.500t-22.500 9.500h-64q-13 0-22.500-9.500t-9.500-22.500v-64q0-13 9.500-22.500t22.500-9.500h64q13 0 22.500 9.500t9.500 22.500zm0-256v64q0 13-9.500 22.500t-22.500 9.500h-64q-13 0-22.500-9.500t-9.500-22.500v-64q0-13 9.500-22.500t22.500-9.500h64q13 0 22.500 9.500t9.500 22.500zm1152 512v64q0 13-9.500 22.500t-22.500 9.500h-960q-13 0-22.500-9.500t-9.500-22.500v-64q0-13 9.500-22.500t22.500-9.500h960q13 0 22.500 9.500t9.500 22.500zm0-256v64q0 13-9.500 22.500t-22.500 9.500h-960q-13 0-22.500-9.500t-9.500-22.500v-64q0-13 9.500-22.500t22.500-9.500h960q13 0 22.500 9.500t9.500 22.500zm0-256v64q0 13-9.500 22.500t-22.500 9.500h-960q-13 0-22.500-9.500t-9.500-22.500v-64q0-13 9.500-22.500t22.500-9.500h960q13 0 22.500 9.500t9.500 22.500zm128 704v-832q0-13-9.500-22.500t-22.500-9.500h-1472q-13 0-22.500 9.500t-9.500 22.500v832q0 13 9.500 22.500t22.500 9.500h1472q13 0 22.500-9.500t9.500-22.500zm128-1088v1088q0 66-47 113t-113 47h-1472q-66 0-113-47t-47-113v-1088q0-66 47-113t113-47h1472q66 0 113 47t47 113z"/></svg><div class="val">80%</div><div class="nam">七日新增</div><div class="bar"><i style="width:25%"></i></div></div><div class="stat" style="left:1398px;top:269px"><svg style="position:absolute;left:12.0px;top:3px" width="26.00" height="26" viewBox="0 0 1792 1792"><path fill="#18bc9c" d="M1362 1185q0 153-99.500 263.500t-258.500 136.500v175q0 14-9 23t-23 9h-135q-13 0-22.500-9.500t-9.500-22.500v-175q-66-9-127.500-31t-101.500-44.500-74-48-46.500-37.500-17.500-18q-17-21-2-41l103-135q7-10 23-12 15-2 24 9l2 2q113 99 243 125 37 8 74 8 81 0 142.500-43t61.500-122q0-28-15-53t-33.500-42-58.500-37.500-66-32-80-32.500q-39-16-61.500-25t-61.500-26.500-62.500-31-56.500-35.500-53.500-42.500-43.500-49-35.500-58-21-66.500-8.500-78q0-138 98-242t255-134v-180q0-13 9.500-22.500t22.500-9.500h135q14 0 23 9t9 23v176q57 6 110.500 23t87 33.500 63.500 37.500 39 29 15 14q17 18 5 38l-81 146q-8 15-23 16-14 3-27-7-3-3-14.500-12t-39-26.500-58.500-32-74.500-26-85.500-11.500q-95 0-155 43t-60 111q0 26 8.500 48t29.500 41.500 39.500 33 56 31 60.500 27 70 27.500q53 20 81 31.500t76 35 75.500 42.500 62 50 53 63.500 31.500 76.500 13 94z"/></svg><div class="val">32%</div><div class="nam">七日活跃</div><div class="bar"><i style="width:25%"></i></div></div>
<div class="card" style="left:15px;height:149px;background:#0073b7">
  <div class="ct">分类统计</div><div class="lb" style="background:#18bc9c">实时</div>
  <div class="big" style="left:16.5px;top:52.5px">1234</div>
  <div class="sm" style="left:16px;top:97.5px;color:#d8dfe6"><svg style="display:inline-block;vertical-align:-1.5px;margin-right:4px" width="13.00" height="13" viewBox="0 0 1792 1792"><path fill="#d8dfe6" d="M640 896q0-53-37.500-90.500t-90.500-37.500-90.500 37.500-37.500 90.500 37.500 90.500 90.500 37.500 90.500-37.500 37.500-90.500zm384 0q0-53-37.500-90.500t-90.500-37.500-90.500 37.500-37.500 90.500 37.500 90.500 90.500 37.500 90.500-37.500 37.500-90.500zm384 0q0-53-37.500-90.500t-90.500-37.500-90.500 37.500-37.500 90.500 37.500 90.500 90.500 37.500 90.500-37.500 37.500-90.500zm384 0q0 174-120 321.500t-326 233-450 85.500q-110 0-211-18-173 173-435 229-52 10-86 13-12 1-22-6t-13-18q-4-15 20-37 5-5 23.500-21.500t25.500-23.500 23.500-25.500 24-31.500 20.500-37 20-48 14.500-57.500 12.500-72.500q-146-90-229.500-216.500t-83.500-269.500q0-174 120-321.500t326-233 450-85.500 450 85.500 326 233 120 321.500z"/></svg><b>1234</b></div>
  <div class="sm" style="left:16px;top:116px">当前分类总记录数</div>
</div>
<div class="card" style="left:430px;height:149px;background:linear-gradient(#54a8e1,#3498db)">
  <div class="ct">附件统计</div><div class="lb" style="background:#3498db">实时</div>
  <div class="big" style="left:16.5px;top:52.5px">1043</div>
  <div class="sm" style="left:16px;top:97.5px;color:#dbe4ec"><svg style="display:inline-block;vertical-align:-1.5px;margin-right:5px" width="12" height="12" viewBox="0 0 12 12"><rect width="12" height="12" fill="#d3dde6" fill-opacity=".45"/><path fill="#d6dfe7" d="M0 0h6.5v6zM12 0v6.5h-6zM12 12h-6.5v-6zM0 12v-6.5h6z"/></svg><b>2592</b></div>
  <div class="sm" style="left:16px;top:116px">当前上传的附件数量</div>
</div>
<div class="card" style="left:845px;height:140px;background:linear-gradient(#9491c4,#605ca8)">
  <div class="ct">文章统计</div><div class="lb" style="background:#2c3e50">实时</div>
  <div class="big" style="left:16.5px;top:60.8px">1234</div>
  <div class="big" style="left:207.5px;top:60.8px">6754</div>
  <div class="sm" style="left:16px;top:107px"><svg style="display:inline-block;vertical-align:-1.5px;margin-right:4px" width="13.00" height="13" viewBox="0 0 1792 1792"><path fill="#fff" d="M640 896q0-53-37.500-90.500t-90.500-37.500-90.500 37.500-37.500 90.500 37.500 90.500 90.500 37.500 90.500-37.500 37.500-90.500zm384 0q0-53-37.500-90.500t-90.500-37.500-90.500 37.500-37.500 90.500 37.500 90.500 90.500 37.500 90.500-37.500 37.500-90.500zm384 0q0-53-37.500-90.500t-90.500-37.500-90.500 37.500-37.500 90.500 37.500 90.500 90.500 37.500 90.500-37.500 37.500-90.500zm384 0q0 174-120 321.500t-326 233-450 85.500q-110 0-211-18-173 173-435 229-52 10-86 13-12 1-22-6t-13-18q-4-15 20-37 5-5 23.500-21.500t25.500-23.500 23.500-25.500 24-31.500 20.500-37 20-48 14.500-57.500 12.500-72.500q-146-90-229.500-216.500t-83.500-269.500q0-174 120-321.500t326-233 450-85.500 450 85.500 326 233 120 321.500z"/></svg>评论次数</div>
  <div class="sm" style="left:207px;top:107px"><svg style="display:inline-block;vertical-align:-1.5px;margin-right:4px" width="12.00" height="12" viewBox="0 0 1792 1792"><path fill="#fff" d="M896 1664q-26 0-44-18l-624-602q-10-8-27.500-26t-55.500-65.500-68-97.500-53.500-121-23.500-138q0-220 127-344t351-124q62 0 126.500 21.500t120 58 95.500 68.500 76 68q36-36 76-68t95.500-68.500 120-58 126.500-21.500q224 0 351 124t127 344q0 221-229 450l-623 600q-18 18-44 18z"/></svg>点赞次数</div>
</div>
<div class="card" style="left:1260px;height:140px;background:linear-gradient(#1fdfb9,#18bc9c)">
  <div class="ct">新闻统计</div><div class="lb" style="background:#2c3e50">实时</div>
  <div class="big" style="left:16.5px;top:60.8px">5302</div>
  <div class="big" style="left:207.5px;top:60.8px">8205</div>
  <div class="sm" style="left:16px;top:107px"><svg style="display:inline-block;vertical-align:-1.5px;margin-right:4px" width="13.00" height="13" viewBox="0 0 1792 1792"><path fill="#fff" d="M640 896q0-53-37.500-90.500t-90.500-37.500-90.500 37.500-37.500 90.500 37.500 90.500 90.500 37.500 90.500-37.500 37.500-90.500zm384 0q0-53-37.500-90.500t-90.500-37.500-90.500 37.500-37.500 90.500 37.500 90.500 90.500 37.500 90.500-37.500 37.500-90.500zm384 0q0-53-37.500-90.500t-90.500-37.500-90.500 37.500-37.500 90.500 37.500 90.500 90.500 37.500 90.500-37.500 37.500-90.500zm384 0q0 174-120 321.500t-326 233-450 85.500q-110 0-211-18-173 173-435 229-52 10-86 13-12 1-22-6t-13-18q-4-15 20-37 5-5 23.500-21.500t25.500-23.500 23.500-25.500 24-31.500 20.500-37 20-48 14.500-57.500 12.500-72.500q-146-90-229.500-216.500t-83.500-269.500q0-174 120-321.500t326-233 450-85.500 450 85.500 326 233 120 321.500z"/></svg>评论次数</div>
  <div class="sm" style="left:207px;top:107px"><svg style="display:inline-block;vertical-align:-1.5px;margin-right:4px" width="12.00" height="12" viewBox="0 0 1792 1792"><path fill="#fff" d="M1536 1399q0 109-62.500 187t-150.500 78h-854q-88 0-150.500-78t-62.500-187q0-85 8.500-160.500t31.500-152 58.500-131 94-89 134.500-34.500q131 128 313 128t313-128q76 0 134.500 34.500t94 89 58.500 131 31.500 152 8.500 160.500zm-256-887q0 159-112.500 271.500t-271.500 112.500-271.500-112.500-112.500-271.500 112.500-271.500 271.500-112.500 271.500 112.500 112.500 271.500z"/></svg>点赞次数</div>
</div></div>
</body>
</html>
